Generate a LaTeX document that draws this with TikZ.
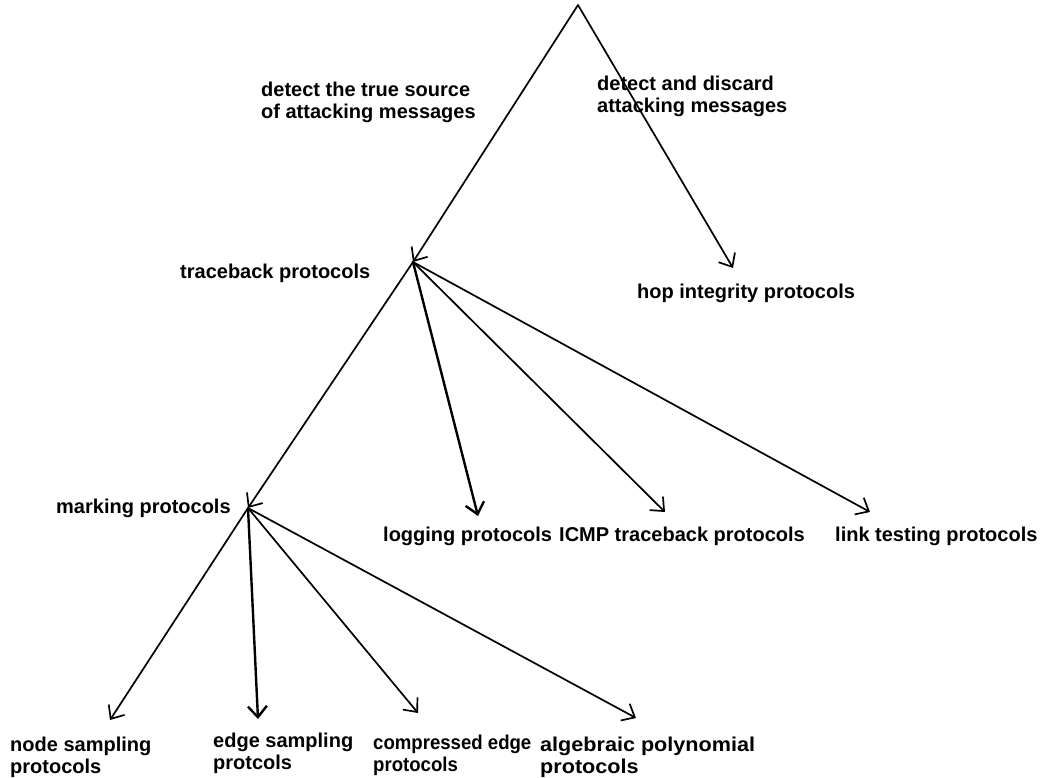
\documentclass[tikz,border=0pt]{standalone}
\usepackage{fontspec}
\setmainfont{Liberation Sans}
\usetikzlibrary{arrows.meta}
\tikzset{
  conn/.style={line width=1.7pt, line cap=round},
  arr/.style={conn, -{Straight Barb[length=11pt,width=19pt]}},
  lbl/.style={anchor=north west, inner sep=0pt, align=left,
    font=\fontsize{20}{22}\selectfont\bfseries}
}
\begin{document}
\begin{tikzpicture}[x=1pt,y=-1pt]
\useasboundingbox[fill=white] (0,0) rectangle (1042,778);
% junction coordinates
\coordinate (root) at (578,5);
\coordinate (tb) at (413,262);
\coordinate (hop) at (733,268);
\coordinate (mk) at (248,508);
\coordinate (log) at (478,516);
\coordinate (icmp) at (665,512);
\coordinate (link) at (870,512);
\coordinate (ns) at (110,720);
\coordinate (es) at (258,719);
\coordinate (ce) at (418,713);
\coordinate (ap) at (636,718);
% labels
\node[lbl] (l1) at (261,81.5) {detect the true source\\of attacking messages};
\node[lbl] (l2) at (597,76) {detect and discard\\attacking messages};
\node[lbl] (ltb) at (180,263.5) {traceback protocols};
\node[lbl] (lhop) at (637,283.5) {hop integrity protocols};
\node[lbl] (lmk) at (56,498.5) {marking protocols};
\node[lbl] (llog) at (383,526.5) {logging protocols};
\node[lbl] (licmp) at (559,526.5) {ICMP traceback protocols};
\node[lbl] (llink) at (835,526.5) {link testing protocols};
\node[lbl] (lns) at (10,736.5) {node sampling\\protocols};
\node[lbl] (les) at (213,732.5) {edge sampling\\protcols};
\node[lbl] (lce) at (373,734.5) {\scalebox{0.93}[1]{compressed edge}\\\scalebox{0.93}[1]{protocols}};
\node[lbl] (lap) at (540,736.5) {\scalebox{1.08}[1]{algebraic polynomial}\\\scalebox{1.08}[1]{protocols}};
% connectors
\draw[arr] (root) -- (tb);
\draw[arr] (root) -- (hop);
\draw[arr] (tb) -- (mk);
\draw[arr, line width=2.4pt] (tb) -- (log);
\draw[arr] (tb) -- (icmp);
\draw[arr] (tb) -- (link);
\draw[arr] (mk) -- (ns);
\draw[arr, line width=2.4pt] (mk) -- (es);
\draw[arr] (mk) -- (ce);
\draw[arr] (mk) -- (ap);
\end{tikzpicture}
\end{document}
